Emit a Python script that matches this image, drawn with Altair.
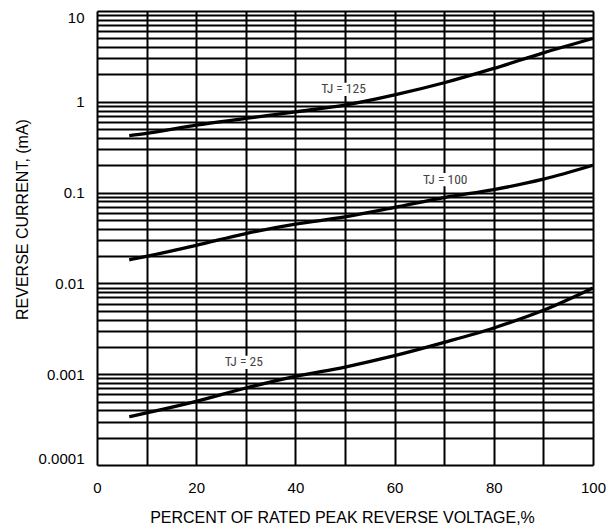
import altair as alt
import pandas as pd

# Percent of rated peak reverse voltage
x_pct = [6.5, 10, 20, 30, 40, 50, 60, 70, 80, 90, 100]
# Reverse current (mA) for each junction temperature
tj125 = [0.425, 0.449, 0.554, 0.656, 0.776, 0.92, 1.19, 1.62, 2.33, 3.46, 4.99]
tj100 = [0.0182, 0.0199, 0.0263, 0.0354, 0.0449, 0.054, 0.0686, 0.0883, 0.108, 0.1406, 0.20]
tj25 = [0.00034, 0.000374, 0.000501, 0.000705, 0.000946, 0.0012, 0.0016, 0.00224, 0.00323, 0.00505, 0.0089]

series_names = ["TJ = 125", "TJ = 100", "TJ = 25"]
label_x = [49.7, 70.2, 29.6]
label_y = [1.37, 0.139, 0.00135]

x_grid = list(range(0, 101, 10))
x_tick_values = [0, 20, 40, 60, 80, 100]
x_tick_labels = ["0", "20", "40", "60", "80", "100"]
y_decades = [0.0001, 0.001, 0.01, 0.1, 1, 10]
y_tick_labels = ["0.0001", "0.001", "0.01", "0.1", "1", "10"]
y_grid = sorted(set([round(m * d, 10) for d in y_decades[:-1] for m in range(1, 10)] + [10]))

rows = []
for name, vals in zip(series_names, [tj125, tj100, tj25]):
    for xv, yv in zip(x_pct, vals):
        rows.append({"series": name, "x": xv, "y": yv})
df = pd.DataFrame(rows)
lab = pd.DataFrame({"text": series_names, "x": label_x, "y": label_y})

x_expr = "".join(f"datum.value == {v} ? '{t}' : " for v, t in zip(x_tick_values, x_tick_labels)) + "''"
y_expr = "".join(f"datum.value == {v} ? '{t}' : " for v, t in zip(y_decades, y_tick_labels)) + "''"

FONT = "Liberation Sans, Arial, Helvetica, sans-serif"

xscale = alt.Scale(domain=[0, 100], nice=False, zero=False)
yscale = alt.Scale(type="log", domain=[0.0001, 10], nice=False)

x_axis = alt.Axis(
    values=x_grid, grid=True, gridColor="#000", gridWidth=2, ticks=False, domain=False,
    labelExpr=x_expr, labelFont=FONT, labelFontSize=15, labelColor="#000", labelPadding=15,
    labelOverlap=False, labelFlush=False,
    title="PERCENT OF RATED PEAK REVERSE VOLTAGE,%", titleFont=FONT, titleFontSize=16,
    titleFontWeight="normal", titleColor="#000", titleX=245, titleY=57,
    titleAlign="center", titleBaseline="alphabetic",
)
y_axis = alt.Axis(
    values=y_grid, grid=True, gridColor="#000", gridWidth=2, ticks=False, domain=False,
    labelExpr=y_expr, labelFont=FONT, labelFontSize=15, labelColor="#000", labelPadding=13,
    labelOverlap=False, labelFlush=True, labelFlushOffset=1,
    title="REVERSE CURRENT, (mA)", titleFont=FONT, titleFontSize=16,
    titleFontWeight="normal", titleColor="#000", titleX=-75, titleY=208,
    titleAngle=270, titleAlign="center", titleBaseline="middle",
)

lines = alt.Chart(df).mark_line(color="black", strokeWidth=3.3, interpolate="monotone").encode(
    x=alt.X("x:Q", scale=xscale, axis=x_axis),
    y=alt.Y("y:Q", scale=yscale, axis=y_axis),
    detail="series:N",
)

boxes = alt.Chart(lab).mark_point(
    shape="M-1,-0.3H1V0.3H-1Z", size=44 * 44, filled=True, color="white", opacity=1, strokeWidth=0
).encode(x=alt.X("x:Q", scale=xscale), y=alt.Y("y:Q", scale=yscale))

texts = alt.Chart(lab).mark_text(
    font="Liberation Sans Narrow, Roboto Condensed, Liberation Sans", fontSize=13.5,
    color="#444", baseline="middle", align="center"
).encode(x=alt.X("x:Q", scale=xscale), y=alt.Y("y:Q", scale=yscale), text="text:N")

chart = alt.layer(lines, boxes, texts).properties(
    width=496, height=454,
    autosize=alt.AutoSizeParams(type="none"),
    padding={"left": 89, "top": 3, "right": 14, "bottom": 60},
).configure_view(stroke="black", strokeWidth=2).configure(background="white")

chart.save("out.html", embed_options={"renderer": "svg", "actions": False})
